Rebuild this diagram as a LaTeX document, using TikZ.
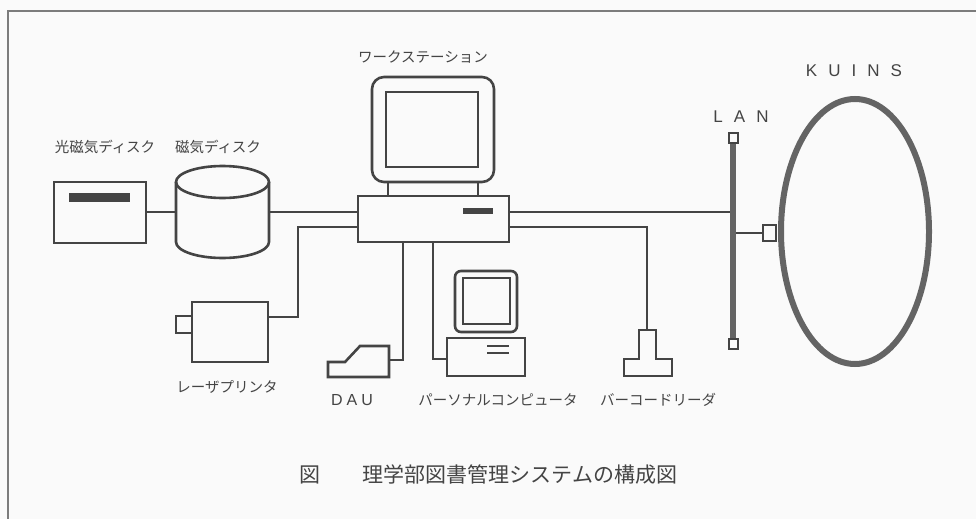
\documentclass[tikz,border=0pt]{standalone}
\usepackage{fontspec}
\newfontfamily\jpfont{Noto Sans CJK JP}
\newfontfamily\latinfont{Liberation Sans}
\usetikzlibrary{positioning}
\definecolor{line-gray}{RGB}{68,68,68}
\definecolor{ring-gray}{RGB}{100,100,100}
\definecolor{paper}{RGB}{250,250,250}
\tikzset{
  unit/.style={draw=line-gray, line width=2.6pt},
  wire/.style={draw=line-gray, line width=2.1pt},
  jplabel/.style={font=\jpfont\fontsize{14.5}{14.5}\selectfont, text=line-gray, inner sep=0pt},
  caption/.style={font=\jpfont\fontsize{21}{21}\selectfont, text=line-gray, inner sep=0pt},
  netlabel/.style={font=\latinfont\fontsize{17}{17}\selectfont\addfontfeature{LetterSpace=65}, text=line-gray, inner sep=0pt}
}

\begin{document}
\begin{tikzpicture}[x=1pt,y=-1pt]
\fill[paper] (0,0) rectangle (976,519);
\useasboundingbox (0,0) rectangle (976,519);
\draw[line-gray!70, line width=1.4pt] (976,11) -- (8,11) -- (8,519);

% optical disk and hard disk
\draw[unit] (54,182) rectangle (146,243);
\fill[line-gray] (69,193) rectangle (130,202);
\coordinate (mo-r) at (146,212);
\draw[unit] (222.5,182) ellipse (46.5 and 16);
\draw[unit] (176,182) -- (176,242) arc (180:0:46.5 and 16) -- (269,182);
\coordinate (hd-l) at (176,212);
\coordinate (hd-r) at (269,212);
\node[jplabel] (mo-lbl) at (105,147) {光磁気ディスク};
\node[jplabel] (hd-lbl) at (218,147) {磁気ディスク};

% workstation
\draw[unit, rounded corners=12] (372,77) rectangle (494,182);
\draw[unit] (386,92) rectangle (478,167);
\draw[unit] (388,182) -- (388,196) (478,182) -- (478,196);
\draw[unit] (358,196) rectangle (509,242);
\fill[line-gray] (463,208) rectangle (493,214);
\coordinate (ws-l1) at (358,212);
\coordinate (ws-l2) at (358,227);
\coordinate (ws-r1) at (509,212);
\coordinate (ws-r2) at (509,227);
\coordinate (ws-b1) at (403,242);
\coordinate (ws-b2) at (433,242);
\node[jplabel] (ws-lbl) at (423,57) {ワークステーション};

% laser printer
\draw[unit] (192,302) rectangle (268,362);
\draw[unit] (192,316) -- (176,316) -- (176,333) -- (192,333);
\coordinate (lp-r) at (268,317);
\coordinate (lp-bend) at (298,227);
\node[jplabel] (lp-lbl) at (227,387) {レーザプリンタ};

% DAU
\draw[unit] (328,377) -- (328,362) -- (345,362) -- (360,346) -- (389,346) -- (389,377) -- cycle;
\coordinate (dau-r) at (389,360);
\node[netlabel, font=\latinfont\fontsize{16}{16}\selectfont\addfontfeature{LetterSpace=25}] (dau-lbl) at (352,400) {DAU};

% personal computer
\draw[unit, rounded corners=6] (455,271) rectangle (517,332);
\draw[unit] (463,278) rectangle (510,324);
\draw[unit] (447,338) rectangle (525,376);
\draw[unit] (487,346) -- (509,346) (487,353) -- (509,353);
\coordinate (pc-l) at (447,359);
\node[jplabel] (pc-lbl) at (498,400) {パーソナルコンピュータ};

% barcode reader
\draw[unit] (639,330) -- (656,330) -- (656,359) -- (672,359) -- (672,376)
  -- (624,376) -- (624,359) -- (639,359) -- cycle;
\coordinate (bc-t) at (647,330);
\node[jplabel] (bc-lbl) at (658,400) {バーコードリーダ};

% LAN and KUINS
\draw[ring-gray, line width=6.5pt] (733,138) -- (733,339);
\draw[unit, fill=paper, line width=2pt] (729,133) rectangle (738,143);
\draw[unit, fill=paper, line width=2pt] (729,339) rectangle (738,349);
\coordinate (lan-in) at (730,212);
\coordinate (lan-out) at (736,233);
\draw[unit, line width=2.4pt] (763,225) rectangle (776,241);
\coordinate (gw-l) at (763,233);
\draw[ring-gray, line width=6pt] (855,231.5) ellipse (74 and 132.5);
\node[netlabel] (lan-lbl) at (741,117) {LAN};
\node[netlabel] (kuins-lbl) at (854,71) {KUINS};

% connections
\draw[wire] (mo-r) -- (hd-l);
\draw[wire] (hd-r) -- (ws-l1);
\draw[wire] (lp-r) -| (lp-bend) -- (ws-l2);
\draw[wire] (dau-r) -| (ws-b1);
\draw[wire] (pc-l) -| (ws-b2);
\draw[wire] (bc-t) |- (ws-r2);
\draw[wire] (ws-r1) -- (lan-in);
\draw[wire] (lan-out) -- (gw-l);

% caption
\node[caption] (fig-lbl) at (310,475) {図};
\node[caption] (title-lbl) at (520,475) {理学部図書管理システムの構成図};
\end{tikzpicture}
\end{document}
